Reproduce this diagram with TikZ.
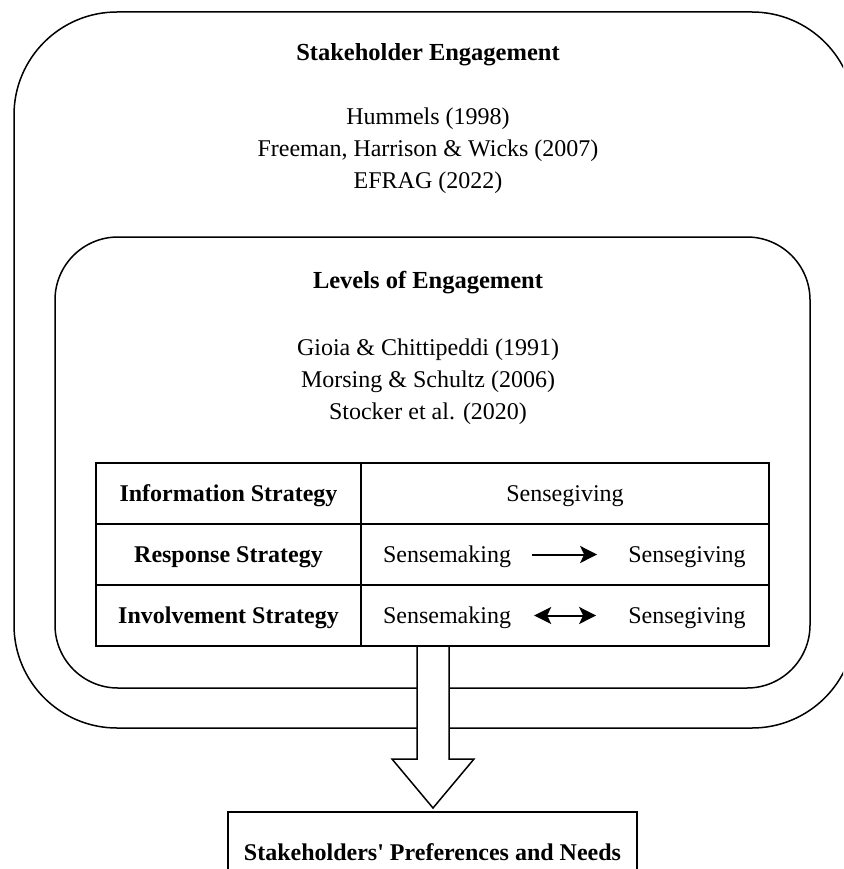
\documentclass[tikz,border=0pt]{standalone}
\usepackage{fontspec}
\setmainfont{Liberation Serif}
\usetikzlibrary{arrows.meta,calc}
\begin{document}
\begin{tikzpicture}[x=1pt,y=-1pt,
  frame/.style={draw, line width=1.5pt, inner sep=0pt},
  txt/.style={font=\fontsize{24}{30}\selectfont, inner sep=0pt, text height=16pt, text depth=0pt},
  headtxt/.style={txt, font=\fontsize{24.5}{30}\selectfont\bfseries},
  cell/.style={draw, line width=1.6pt, inner sep=0pt, minimum height=61pt},
  boldtxt/.style={txt, font=\fontsize{24}{30}\selectfont\bfseries},
  flow/.style={line width=2pt, -{Stealth[length=17pt,width=17pt,inset=4pt]}},
  twoway/.style={line width=2pt, {Stealth[length=17pt,width=17pt,inset=4pt]}-{Stealth[length=17pt,width=17pt,inset=4pt]}},
  blockarrow/.style={draw, line width=1.5pt, fill=white, line join=miter}
]
\clip (0,0) rectangle (843,869);

% outer and inner rounded frames
\node[frame, rounded corners=103pt, minimum width=841pt, minimum height=716pt] (outer) at (434.5,370) {};
\node[frame, rounded corners=63pt, minimum width=755pt, minimum height=451pt] (inner) at (432.5,462.5) {};

% titles and references
\node[headtxt] (t1) at (428,53) {Stakeholder Engagement};
\node[txt] (r1) at (428,117) {Hummels (1998)};
\node[txt] (r2) at (428,149) {Freeman, Harrison \& Wicks (2007)};
\node[txt] (r3) at (428,181) {EFRAG (2022)};

\node[headtxt] (t2) at (428,280) {Levels of Engagement};
\node[txt] (g1) at (428,347) {Gioia \& Chittipeddi (1991)};
\node[txt] (g2) at (428,379) {Morsing \& Schultz (2006)};
\node[txt] (g3) at (428,411) {Stocker et al. (2020)};

% block arrow leaving the table downwards
\coordinate (atop) at (433,646);
\coordinate (atip) at (433,808);
\draw[blockarrow] ($(atop)+(-16,0)$) -- ($(atop)+(-16,113)$) -- ($(atop)+(-41,113)$) -- (atip)
  -- ($(atop)+(41,113)$) -- ($(atop)+(16,113)$) -- ($(atop)+(16,0)$) -- cycle;

% strategy table
\node[cell, minimum width=265pt] (a1) at (228.5,493.5) {};
\node[cell, minimum width=408pt] (b1) at (565,493.5) {};
\node[cell, minimum width=265pt] (a2) at (228.5,554.5) {};
\node[cell, minimum width=408pt] (b2) at (565,554.5) {};
\node[cell, minimum width=265pt] (a3) at (228.5,615.5) {};
\node[cell, minimum width=408pt] (b3) at (565,615.5) {};

\node[boldtxt] at (a1) {Information Strategy};
\node[boldtxt] at (a2) {Response Strategy};
\node[boldtxt] at (a3) {Involvement Strategy};

\node[txt] at (b1) {Sensegiving};
\node[txt] (sm2) at (447,554.5) {Sensemaking};
\node[txt] (sg2) at (687,554.5) {Sensegiving};
\node[txt] (sm3) at (447,615.5) {Sensemaking};
\node[txt] (sg3) at (687,615.5) {Sensegiving};

\draw[flow, shorten <=21pt, shorten >=31pt] (sm2.east) -- (sg2.west);
\draw[twoway, shorten <=23pt, shorten >=32pt] (sm3.east) -- (sg3.west);

% outcome box
\node[frame, minimum width=409pt, minimum height=80pt] (out) at (432.5,852) {};
\node[boldtxt] at (432.5,852) {Stakeholders\textquotesingle{} Preferences and Needs};
\end{tikzpicture}
\end{document}
